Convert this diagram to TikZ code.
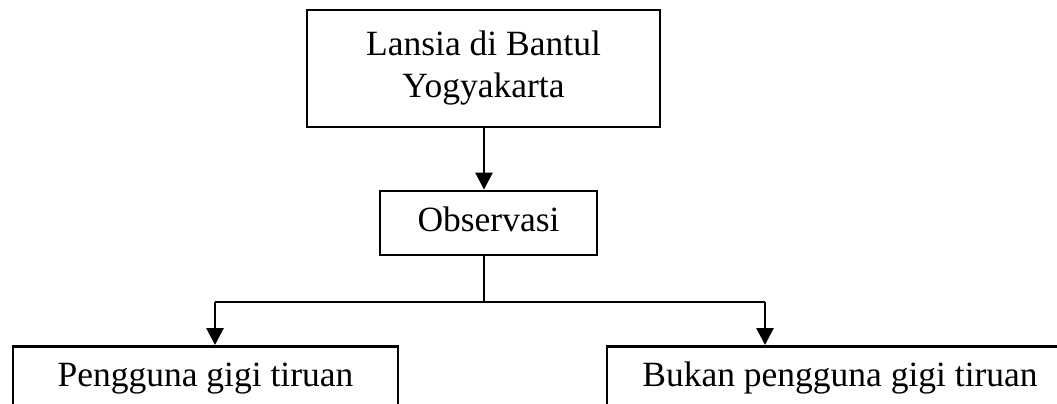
\documentclass[tikz,border=0pt]{standalone}
\usepackage{fontspec}
\setmainfont{Liberation Serif}
\usetikzlibrary{arrows.meta}
\tikzset{
  boxnode/.style={draw=black, line width=2.8pt, inner sep=0pt, align=center,
    font=\fontsize{35.5}{42}\selectfont},
  onebox/.style={boxnode, text height=25pt, text depth=8pt},
  link/.style={draw=black, line width=2.8pt},
  arrowlink/.style={link, -{Triangle[length=17pt,width=17pt]}}
}
\begin{document}
\begin{tikzpicture}[x=1pt,y=-1pt]
\useasboundingbox (0,0) rectangle (1057,404);
\clip (0,0) rectangle (1057,404);
\node[boxnode, minimum width=353pt, minimum height=117pt] (top) at (483.5,68.5)
  {Lansia di Bantul\\Yogyakarta};
\node[onebox, minimum width=217pt, minimum height=64pt] (obs) at (488.5,223) {Observasi};
\node[onebox, minimum width=385pt, minimum height=64pt, anchor=north] (left) at (205.5,345)
  {Pengguna gigi tiruan};
\node[onebox, minimum width=466pt, minimum height=64pt, anchor=north] (right) at (840,345)
  {Bukan pengguna gigi tiruan};
\coordinate (j) at (484,302);
\coordinate (lj) at (215,302);
\coordinate (rj) at (765,302);
\draw[arrowlink] (top.south -| j) -- (j |- obs.north);
\draw[link] (j |- obs.south) -- (j);
\draw[link] (lj) -- (rj);
\draw[arrowlink] (lj) -- (lj |- left.north);
\draw[arrowlink] (rj) -- (rj |- right.north);
\end{tikzpicture}
\end{document}
